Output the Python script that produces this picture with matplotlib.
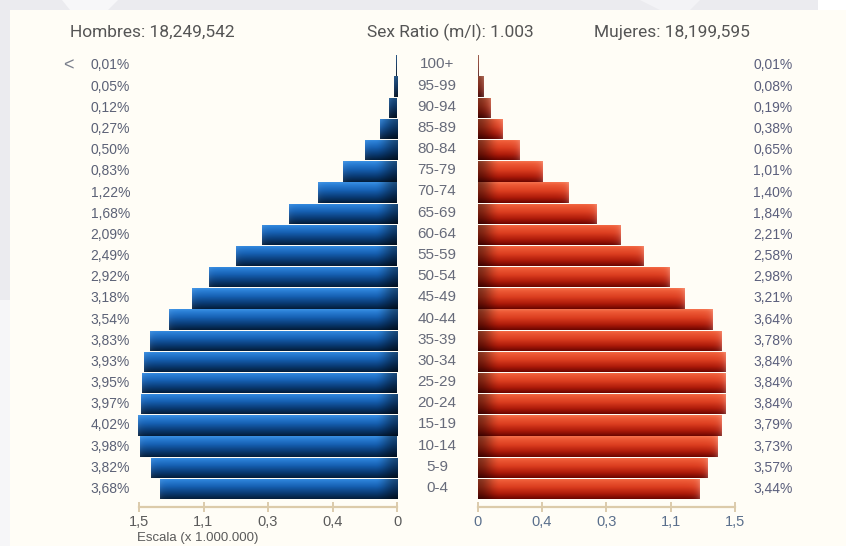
import numpy as np
import matplotlib
matplotlib.use("Agg")
import matplotlib.pyplot as plt
from matplotlib import font_manager
from matplotlib.colors import to_rgb
from matplotlib.patches import Rectangle, Polygon
import matplotlib.transforms as mtrans

# ---- data -------------------------------------------------------------
age_groups = ['0-4', '5-9', '10-14', '15-19', '20-24', '25-29', '30-34',
              '35-39', '40-44', '45-49', '50-54', '55-59', '60-64', '65-69',
              '70-74', '75-79', '80-84', '85-89', '90-94', '95-99', '100+']
male_pct = [3.68, 3.82, 3.98, 4.02, 3.97, 3.95, 3.93, 3.83, 3.54, 3.18, 2.92,
            2.49, 2.09, 1.68, 1.22, 0.83, 0.50, 0.27, 0.12, 0.05, 0.01]
female_pct = [3.44, 3.57, 3.73, 3.79, 3.84, 3.84, 3.84, 3.78, 3.64, 3.21, 2.98,
              2.58, 2.21, 1.84, 1.40, 1.01, 0.65, 0.38, 0.19, 0.08, 0.01]
male_total = "18,249,542"
female_total = "18,199,595"
sex_ratio = "1.003"
male_tick_pos = [4, 3, 2, 1, 0]
male_tick_labels = ['1,5', '1,1', '0,3', '0,4', '0']
female_tick_pos = [0, 1, 2, 3, 4]
female_tick_labels = ['0', '0,4', '0,3', '1,1', '1,5']

# ---- fonts ------------------------------------------------------------
available = {f.name for f in font_manager.fontManager.ttflist}
narrow = 'Liberation Sans Narrow' if 'Liberation Sans Narrow' in available else 'Roboto'
base = 'Liberation Sans' if 'Liberation Sans' in available else 'DejaVu Sans'
plt.rcParams['font.family'] = [base, 'DejaVu Sans']

W, H = 846, 546
fig = plt.figure(figsize=(W / 100, H / 100), dpi=100)
fig.patch.set_facecolor('#ebebef')


def fx(px):
    return px / W


def fy(py):
    return (H - py) / H


def page_patch(p):
    p.set_zorder(-5)
    fig.patches.append(p)


# page background: light panel with faint shapes in the margin
page_patch(Polygon([[fx(62), fy(0)], [fx(118), fy(0)], [fx(108), fy(10)],
                    [fx(70), fy(10)]], closed=True, transform=fig.transFigure,
                   facecolor='#f7f7f9', edgecolor='none'))
page_patch(Polygon([[fx(640), fy(0)], [fx(700), fy(0)], [fx(690), fy(10)],
                    [fx(660), fy(10)]], closed=True, transform=fig.transFigure,
                   facecolor='#f3f3f6', edgecolor='none'))
page_patch(Rectangle((fx(818), fy(10)), fx(W - 818), 10 / H,
                     transform=fig.transFigure, facecolor='#ffffff', edgecolor='none'))
page_patch(Rectangle((fx(0), fy(H)), fx(10), (H - 300) / H,
                     transform=fig.transFigure, facecolor='#f6f6f8', edgecolor='none'))
page_patch(Rectangle((fx(10), fy(H)), fx(W - 10), (H - 10) / H,
                     transform=fig.transFigure, facecolor='#fffdf6', edgecolor='none'))

ax_bottom = fy(499.6)
ax_height = fy(54.9) - ax_bottom
ax_m = fig.add_axes([fx(139), ax_bottom, fx(397 - 139), ax_height])
ax_f = fig.add_axes([fx(477.7), ax_bottom, fx(735 - 477.7), ax_height])

y = np.arange(len(age_groups))
bar_h = 0.96


def shade_stops(stops, n):
    t = np.linspace(0, 1, n)
    ts = [s[0] for s in stops]
    cols = np.array([to_rgb(s[1]) for s in stops])
    return np.stack([np.interp(t, ts, cols[:, k]) for k in range(3)], axis=1)


blue_stops = [(0.0, '#3b90e2'), (0.12, '#2a7fd6'), (0.4, '#1660b2'),
              (0.7, '#0a3d78'), (1.0, '#031d3a')]
red_stops = [(0.0, '#f4724e'), (0.12, '#ee5a36'), (0.42, '#dc3e20'),
             (0.74, '#ae1b0a'), (1.0, '#6c0500')]


def gradient(width, stops, highlight):
    rows, cols = 48, 256
    vert = shade_stops(stops, rows)            # top -> bottom
    xd = np.linspace(0, width, cols)           # centre -> outer end
    s = np.clip(xd / 0.35, 0, 1)
    dark = 0.55 + 0.45 * (s * s * (3 - 2 * s))
    img = vert[:, None, :] * dark[None, :, None]
    dist = width - xd
    glow = highlight * np.exp(-dist / 0.05)
    img = img + (1 - img) * glow[None, :, None]
    return np.clip(img, 0, 1)


def draw_side(ax, values, stops, highlight, base_color):
    bars = ax.barh(y, values, height=bar_h, color=base_color, linewidth=0, zorder=2)
    for bar, v in zip(bars, values):
        y0 = bar.get_y()
        img = gradient(v, stops, highlight)
        im = ax.imshow(img, extent=[0, v, y0, y0 + bar_h], origin='upper',
                       aspect='auto', interpolation='bilinear', zorder=3)
        im.set_clip_path(bar)
    ax.set_ylim(-0.5, len(age_groups) - 0.5)
    ax.set_facecolor('none')
    for side in ('top', 'left', 'right'):
        ax.spines[side].set_visible(False)
    ax.spines['bottom'].set_position(('outward', 5.5))
    ax.spines['bottom'].set_color('#dccbaa')
    ax.spines['bottom'].set_linewidth(1.6)
    ax.set_yticks([])
    ax.tick_params(axis='x', direction='inout', length=7, width=1.2,
                   color='#d6c3a0', pad=2)


draw_side(ax_m, male_pct, blue_stops, 0.08, '#1660b2')
ax_m.set_xlim(4, 0)
ax_m.set_xticks(male_tick_pos)
ax_m.set_xticklabels(male_tick_labels, fontsize=10.5, color='#5a5a5a')

draw_side(ax_f, female_pct, red_stops, 0.22, '#d93b1f')
ax_f.set_xlim(0, 4)
ax_f.set_xticks(female_tick_pos)
ax_f.set_xticklabels(female_tick_labels, fontsize=10.5, color='#5a6f8c')

# labels beside the bars
tr_m = mtrans.blended_transform_factory(fig.transFigure, ax_m.transData)
for yi, age, mp, fp in zip(y, age_groups, male_pct, female_pct):
    fig.text(fx(130), yi, f"{mp:.2f}%".replace('.', ','), transform=tr_m,
             ha='right', va='center', fontsize=10, color='#5b6176')
    fig.text(fx(753), yi, f"{fp:.2f}%".replace('.', ','), transform=tr_m,
             ha='left', va='center', fontsize=10, color='#5b5f7c')
    fig.text(fx(437), yi + 0.05, age, transform=tr_m, ha='center', va='center',
             fontsize=11, color='#676b7a')

fig.text(fx(68), len(age_groups) - 1, '<', transform=tr_m, ha='center',
         va='center', fontsize=13, color='#7a7f8c')

# header line
hdr = dict(fontsize=12.5, color='#555555', va='center', family=[narrow, 'DejaVu Sans'])
fig.text(fx(70), fy(32), f"Hombres: {male_total}", ha='left', **hdr)
fig.text(fx(367), fy(32), f"Sex Ratio (m/l): {sex_ratio}", ha='left', **hdr)
fig.text(fx(594), fy(32), f"Mujeres: {female_total}", ha='left', **hdr)

fig.text(fx(137), fy(544), "Escala (x 1.000.000)", ha='left', va='bottom',
         fontsize=9.5, color='#5a5a5a')

fig.savefig('out.png', dpi=100, facecolor=fig.get_facecolor())
